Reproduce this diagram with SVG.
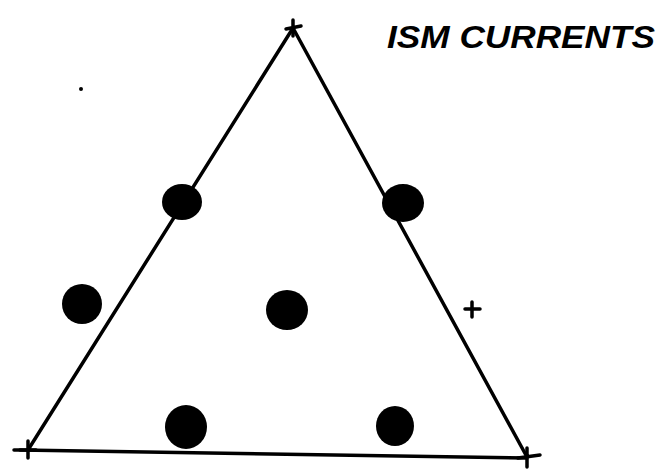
<svg xmlns="http://www.w3.org/2000/svg" width="660" height="469" viewBox="0 0 660 469">
<style>
.edge{stroke:#000;stroke-width:3.5;fill:none;stroke-linecap:round}
.cross{stroke:#000;stroke-width:3.5;fill:none;stroke-linecap:round}
.dot{fill:#000}
.title{font-family:"Liberation Sans",Arial,sans-serif;font-size:31px;font-style:italic;font-weight:bold;fill:#000}
</style>
<rect width="660" height="469" fill="#fff"/>
<g id="connectors">
<path class="edge" d="M293 28 L28 450"/>
<path class="edge" d="M293 28 L527 457"/>
<path class="edge" d="M20 450 L527 458"/>
</g>
<g id="vertex-top"><path class="cross" d="M293 20 L293 36 M286 29 L301 26"/></g>
<g id="vertex-left"><path class="cross" d="M28 441 L28 458 M14 450 L36 450"/></g>
<g id="vertex-right"><path class="cross" d="M527 448 L527 467 M518 458 L540 455"/></g>
<g id="marker-plus"><path class="cross" d="M472 302 L472 317 M465 309 L480 309"/></g>
<g id="dot-top-left"><ellipse class="dot" cx="182" cy="202" rx="20" ry="18"/></g>
<g id="dot-top-right"><ellipse class="dot" cx="403" cy="203" rx="21" ry="19"/></g>
<g id="dot-far-left"><ellipse class="dot" cx="82" cy="304" rx="20" ry="20"/></g>
<g id="dot-center"><ellipse class="dot" cx="287" cy="310" rx="21" ry="20"/></g>
<g id="dot-bottom-left"><ellipse class="dot" cx="186" cy="427" rx="21" ry="22"/></g>
<g id="dot-bottom-right"><ellipse class="dot" cx="395" cy="426" rx="19" ry="20"/></g>
<circle class="dot" cx="81" cy="89" r="2"/>
<g id="title"><text class="title" x="387" y="48" textLength="268" lengthAdjust="spacingAndGlyphs">ISM CURRENTS</text></g>
</svg>
